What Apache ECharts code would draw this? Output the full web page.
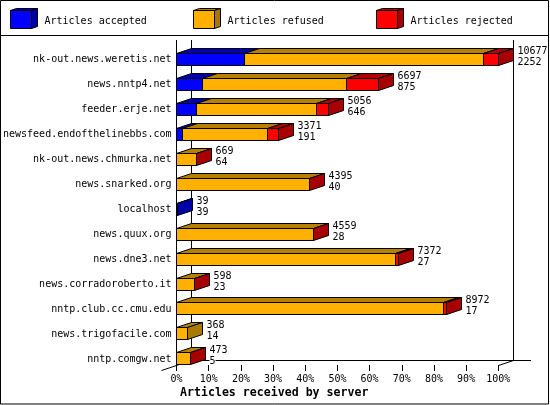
<!DOCTYPE html>
<html><head><meta charset="utf-8">
<style>html,body{margin:0;padding:0;background:#fff}#c{width:550px;height:405px}</style>
<script src="https://cdn.jsdelivr.net/npm/echarts@6/dist/echarts.min.js"></script>
</head><body><div id="c"></div>
<script>
const servers=["nk-out.news.weretis.net","news.nntp4.net","feeder.erje.net","newsfeed.endofthelinebbs.com","nk-out.news.chmurka.net","news.snarked.org","localhost","news.quux.org","news.dne3.net","news.corradoroberto.it","nntp.club.cc.cmu.edu","news.trigofacile.com","nntp.comgw.net"];
const totals=[10677,6697,5056,3371,669,4395,39,4559,7372,598,8972,368,473];
const accepted=[2252,875,646,191,64,40,39,28,27,23,17,14,5];
const rejected=[497,1071,408,365,10,15,0,15,100,10,130,0,10];
const legendNames=["Articles accepted","Articles refused","Articles rejected"];
const frontColors=["#0000ff","#ffb000","#ff0000"];
const topColors=["#0000b0","#b88000","#b00000"];
const sideColors=["#0000a8","#a87800","#a80000"];
const FONT='"DejaVu Sans Mono"';
const maxTotal=Math.max(...totals);
const DX=15,DY=5;
const snap=v=>Math.round(v-.5)+.5;
function renderRow(params,api){
  const i=api.value(0);
  const cy=api.coord([0,i])[1];
  const top=snap(cy-6),bot=top+12;
  const parts=[accepted[i],totals[i]-accepted[i]-rejected[i],rejected[i]];
  const segs=[];let cum=0;
  parts.forEach((v,k)=>{
    if(v<=0)return;
    const a=snap(api.coord([cum/maxTotal*100,i])[0]);
    cum+=v;
    const b=snap(api.coord([cum/maxTotal*100,i])[0]);
    segs.push({k,a,b});
  });
  const kids=[];
  const poly=(pts,fill)=>kids.push({type:'polygon',shape:{points:pts},style:{fill,stroke:'#000',lineWidth:1}});
  const end=segs[segs.length-1];
  const visible=segs.filter(s=>s.b-s.a>=3||segs.length===1).map(s=>({...s}));
  visible[0].a=segs[0].a;
  visible[visible.length-1].b=end.b;
  visible.forEach(s=>poly([[s.a,top],[s.a+DX,top-DY],[s.b+DX,top-DY],[s.b,top]],topColors[s.k]));
  poly([[end.b,top],[end.b+DX,top-DY],[end.b+DX,bot-DY],[end.b,bot]],sideColors[end.k]);
  visible.forEach(s=>poly([[s.a,top],[s.b,top],[s.b,bot],[s.a,bot]],frontColors[s.k]));
  const tx=end.b+DX+4;
  [[totals[i],top-2],[accepted[i],top+9]].forEach(([val,y])=>kids.push({type:'text',style:{x:tx,y,text:String(val),font:'10px '+FONT,fill:'#000',textVerticalAlign:'middle',backgroundColor:'#fff'}}));
  return {type:'group',children:kids};
}
const gLine=(x1,y1,x2,y2)=>({type:'line',shape:{x1,y1,x2,y2},style:{stroke:'#000',lineWidth:1},silent:true,z:0});
const cube=(x,k)=>[
  {type:'polygon',shape:{points:[[x,10.5],[x+6,8.5],[x+27,8.5],[x+21,10.5]]},style:{fill:topColors[k],stroke:'#000',lineWidth:1},z:1},
  {type:'polygon',shape:{points:[[x+21,10.5],[x+27,8.5],[x+27,26.5],[x+21,28.5]]},style:{fill:sideColors[k],stroke:'#000',lineWidth:1},z:1},
  {type:'rect',shape:{x,y:10.5,width:21,height:18},style:{fill:frontColors[k],stroke:'#000',lineWidth:1},z:1},
  {type:'text',style:{x:x+34,y:21,text:legendNames[k],font:'10px '+FONT,fill:'#000',textVerticalAlign:'middle'},z:1}
];
const chart=echarts.init(document.getElementById('c'),null,{renderer:'canvas',devicePixelRatio:1});
chart.setOption({
  animation:false,
  backgroundColor:'#fff',
  title:{text:'Articles received by server',left:180,top:386,padding:0,textStyle:{fontFamily:FONT,fontWeight:'bold',fontSize:11.6,color:'#000',lineHeight:14}},
  grid:{left:176.5,width:321.8,top:46.8,height:324.6},
  xAxis:{type:'value',min:0,max:100,interval:10,offset:-6.4,splitLine:{show:false},axisLine:{show:false},
    axisTick:{show:true,length:6,lineStyle:{color:'#000',width:1}},
    axisLabel:{formatter:'{value}%',color:'#000',fontFamily:FONT,fontSize:10,margin:9,hideOverlap:false}},
  yAxis:{type:'category',inverse:true,data:servers,axisLine:{show:false},axisTick:{show:false},splitLine:{show:false},
    axisLabel:{color:'#000',fontFamily:FONT,fontSize:10,margin:5,interval:0,padding:[4,0,0,0]}},
  series:[{type:'custom',name:'Articles received by server',coordinateSystem:'cartesian2d',clip:false,
    data:servers.map((s,i)=>[i]),encode:{y:0},renderItem:renderRow,silent:true,z:5}],
  graphic:{elements:[
    {type:'rect',shape:{x:.5,y:.5,width:548,height:403.5},style:{fill:'none',stroke:'#000',lineWidth:1},silent:true,z:0},
    gLine(1,35.5,549,35.5),
    gLine(176.5,40,176.5,365),
    gLine(191.5,40,191.5,360.5),
    gLine(513.5,40,513.5,360.5),
    gLine(191.5,360.5,531,360.5),
    gLine(161.5,370.5,191.5,360.5),
    gLine(498.5,365.5,513.5,360.5),
    ...cube(10.5,0),...cube(193.5,1),...cube(376.5,2)
  ]}
});
</script></body></html>
